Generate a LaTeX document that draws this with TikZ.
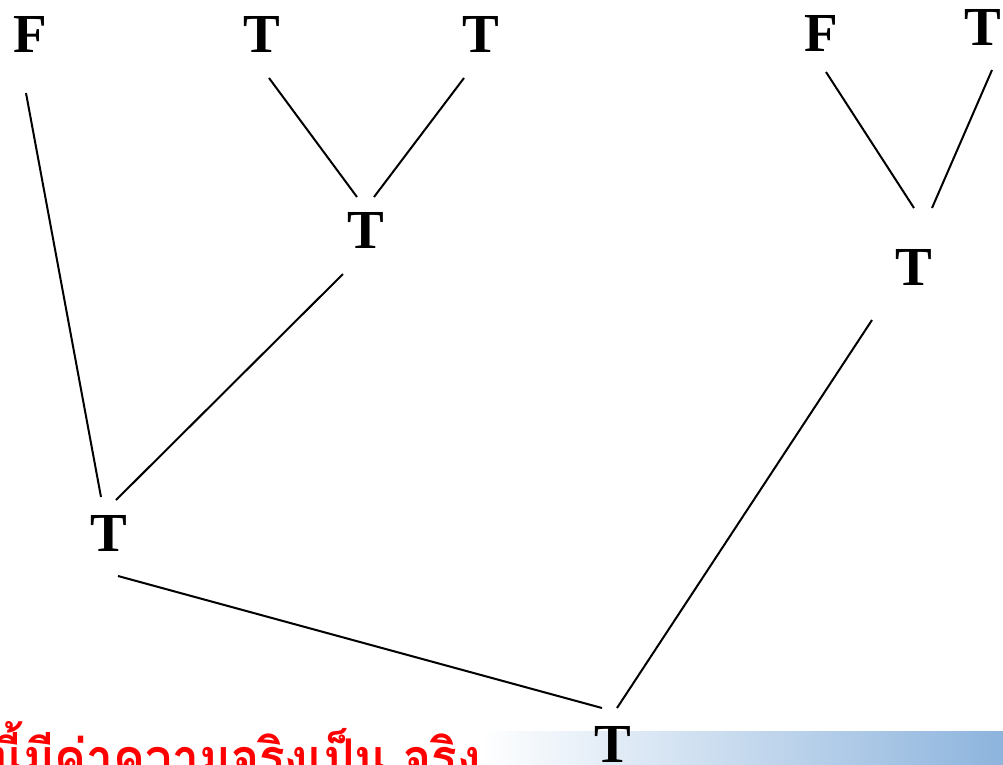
\documentclass[tikz,border=0pt]{standalone}
\usepackage{fontspec}
\setmainfont{Liberation Serif}
\newfontfamily\thaifont[Script=Thai,FakeStretch=0.92]{Loma}
\usetikzlibrary{calc}
\definecolor{barblue}{RGB}{141,180,221}
\definecolor{notered}{RGB}{255,0,0}
\begin{document}
\begin{tikzpicture}[x=1pt,y=-1pt,
  val/.style={font=\fontsize{55}{60}\selectfont\bfseries, inner sep=0pt},
  link/.style={line width=2pt}]
\useasboundingbox (0,0) rectangle (1003,764);
\clip (0,0) rectangle (1003,764);
% shaded footer bar
\shade[left color=white, right color=barblue] (480,731) rectangle (1003,770);
% truth values of the tree
\node[val] (F1) at (30,34) {F};
\node[val] (T2) at (262,34) {T};
\node[val] (T3) at (481,34) {T};
\node[val] (F4) at (821,33) {F};
\node[val] (T5) at (983,27) {T};
\node[val] (TM) at (366,230) {T};
\node[val] (TR) at (914,267) {T};
\node[val] (TL) at (109,533) {T};
\node[val] (TB) at (613,744) {T};
% branches
\draw[link] ($(F1)+(-4,59)$) -- ($(TL)+(-8,-36)$);
\draw[link] ($(T2)+(7,44)$) -- ($(TM)+(-9,-33)$);
\draw[link] ($(T3)+(-17,44)$) -- ($(TM)+(8,-33)$);
\draw[link] ($(TM)+(-23,44)$) -- ($(TL)+(7,-33)$);
\draw[link] ($(TL)+(9,43)$) -- ($(TB)+(-11,-36)$);
\draw[link] ($(F4)+(5,39)$) -- ($(TR)+(0,-59)$);
\draw[link] ($(T5)+(9,43)$) -- ($(TR)+(18,-59)$);
\draw[link] ($(TR)+(-42,53)$) -- ($(TB)+(4,-36)$);
% conclusion line
\node[anchor=base east, inner sep=0pt, text=notered,
      font=\thaifont\bfseries\fontsize{52}{56}\selectfont] (note) at (481,776)
  {นี้มีค่าความจริงเป็น จริง};
\end{tikzpicture}
\end{document}
